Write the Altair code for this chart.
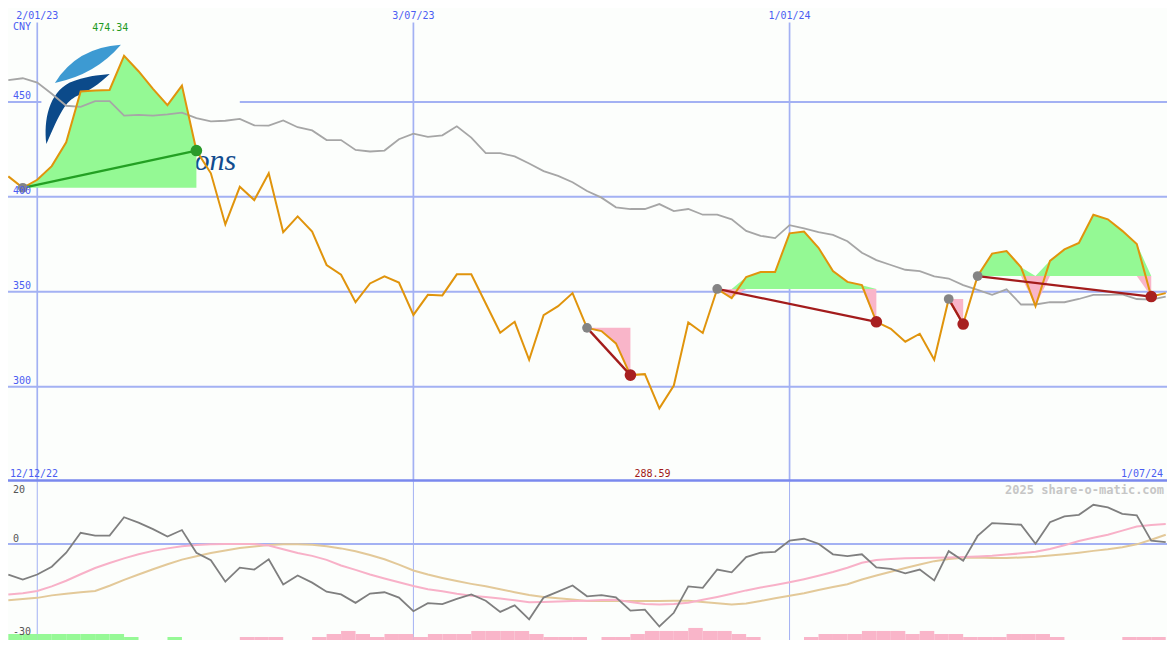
import altair as alt
import pandas as pd

# ---------------- data (weekly) ----------------
start_week = "2022-12-19"

price = [410.8, 404.8, 409.0, 416.2, 428.7, 455.5, 456.0, 456.3, 474.34, 466.2,
         456.9, 448.3, 458.6, 424.4, 412.4, 385.5, 405.3, 398.3, 412.4, 381.4,
         389.7, 381.7, 364.1, 359.0, 344.5, 354.4, 358.1, 354.9, 337.8, 348.4,
         348.1, 359.2, 359.2, 343.8, 328.4, 334.2, 314.2, 337.7, 342.4, 349.3,
         331.0, 329.3, 322.8, 306.1, 306.6, 288.59, 300.6, 333.9, 328.3, 351.5,
         346.7, 357.8, 360.4, 360.4, 380.8, 381.7, 373.2, 360.9, 355.2, 353.5,
         334.2, 330.5, 323.7, 327.9, 314.2, 346.2, 333.0, 358.3, 370.1, 371.5,
         362.9, 342.4, 366.3, 372.3, 375.7, 390.6, 388.2, 382.1, 375.2, 347.5,
         349.3]

moving_avg = [461.5, 462.5, 460.2, 454.3, 448.0, 447.4, 450.4, 450.4, 442.8, 443.2,
              442.8, 443.5, 444.4, 441.5, 439.8, 440.1, 441.1, 437.7, 437.5, 440.3,
              436.7, 435.0, 429.9, 429.9, 424.7, 423.9, 424.4, 430.4, 433.3, 431.6,
              432.4, 437.2, 431.2, 423.1, 423.1, 421.3, 417.6, 413.6, 411.1, 407.7,
              403.1, 399.6, 394.5, 393.6, 393.6, 396.2, 392.5, 393.6, 390.6, 390.6,
              388.2, 382.1, 379.5, 378.3, 385.1, 383.4, 381.4, 380.0, 376.6, 370.6,
              366.7, 364.1, 361.6, 360.9, 358.1, 357.0, 353.5, 351.0, 348.4, 351.3,
              343.3, 343.3, 344.5, 344.5, 346.2, 348.4, 348.4, 348.6, 346.2, 345.9,
              347.5]

momentum = [-9.8, -11.4, -9.8, -7.3, -2.8, 3.6, 2.7, 2.7, 8.6, 6.9,
            4.8, 2.4, 4.5, -2.8, -5.2, -12.1, -7.6, -8.2, -4.9, -13.0,
            -10.1, -12.4, -15.3, -16.2, -18.9, -15.9, -15.5, -17.2, -21.6, -19.0,
            -19.3, -17.6, -16.2, -18.2, -21.8, -19.7, -24.2, -17.2, -15.3, -13.3,
            -16.8, -16.4, -17.1, -21.4, -21.1, -26.5, -22.1, -13.6, -14.1, -8.2,
            -9.1, -4.2, -2.8, -2.5, 1.1, 1.7, 0.1, -3.3, -3.9, -3.3,
            -7.5, -8.0, -9.4, -8.2, -11.7, -2.3, -5.4, 2.6, 6.7, 6.5,
            6.2, 0.1, 7.0, 8.9, 9.4, 12.6, 11.8, 9.7, 9.2, 1.1,
            0.6]

signal_fast = [-16.2, -15.8, -15.1, -13.6, -11.8, -9.7, -7.7, -6.1, -4.6, -3.3,
               -2.2, -1.4, -0.7, -0.3, -0.1, 0.0, 0.0, 0.0, -0.5, -1.7,
               -2.9, -3.8, -5.1, -6.9, -8.3, -9.8, -11.1, -12.3, -13.5, -14.5,
               -15.2, -16.0, -16.6, -17.0, -17.5, -18.1, -18.7, -18.6, -18.5, -18.3,
               -18.2, -18.0, -17.9, -18.6, -19.3, -19.4, -19.3, -18.9, -17.9, -17.0,
               -16.0, -14.9, -14.0, -13.2, -12.3, -11.3, -10.2, -9.0, -7.6, -6.0,
               -5.1, -4.8, -4.6, -4.5, -4.4, -4.3, -4.2, -4.0, -3.8, -3.4,
               -3.0, -2.5, -1.6, -0.4, 1.0, 2.0, 3.0, 4.3, 5.6, 6.1,
               6.4]

signal_slow = [-18.1, -17.7, -17.3, -16.5, -16.0, -15.5, -15.1, -13.4, -11.5, -9.8,
               -8.1, -6.5, -5.0, -3.9, -2.9, -2.1, -1.3, -0.8, -0.3, -0.1,
               -0.1, -0.2, -0.7, -1.4, -2.3, -3.5, -4.9, -6.6, -8.5, -9.8,
               -10.9, -11.9, -12.8, -13.6, -14.5, -15.5, -16.4, -17.0, -17.4, -17.8,
               -18.3, -18.3, -18.3, -18.3, -18.3, -18.3, -18.2, -18.2, -18.6, -19.0,
               -19.4, -19.1, -18.3, -17.4, -16.6, -15.8, -14.8, -13.8, -12.9, -11.4,
               -10.1, -8.9, -7.7, -6.6, -5.5, -4.8, -4.4, -4.3, -4.5, -4.5,
               -4.3, -4.1, -3.7, -3.3, -2.8, -2.2, -1.7, -1.0, -0.1, 1.4,
               3.0]

histogram = [2, 2, 2, 2, 2, 2, 2, 2, 1, 0,
             0, 1, 0, 0, 0, 0, -1, -1, -1, 0,
             0, -1, -2, -3, -2, -1, -2, -2, -1, -2,
             -2, -2, -3, -3, -3, -3, -2, -1, -1, -1,
             0, -1, -1, -2, -3, -3, -3, -4, -3, -3,
             -2, -1, 0, 0, 0, -1, -2, -2, -2, -3,
             -3, -3, -2, -3, -2, -2, -1, -1, -1, -2,
             -2, -2, -1, 0, 0, 0, 0, -1, -1, -1,
             0]

trend_start = [1, 40, 49, 65, 67]
trend_end = [13, 43, 60, 66, 79]

grid_dates = ["2023-01-02", "2023-07-03", "2024-01-01"]
grid_labels = ["2/01/23", "3/07/23", "1/01/24"]
price_levels = [300, 350, 400, 450]
price_level_labels = ["300", "350", "400", "450"]
first_label, last_label = "12/12/22", "1/07/24"
currency = "CNY"
watermark = "2025 share-o-matic.com"

# ---------------- layout / style ----------------
W, H = 1159, 632
SX, SY = W / 1175, H / 650
SPLIT = 487 * SY


def px(v):
    return v * SX


def py(v):
    return v * SY


BG = "#fcfefc"
GRID = "#a3b1f3"
BLUE_TXT = "#4b5df2"
ORANGE = "#e0940c"
FONT = "DejaVu Sans Mono"

dates = pd.date_range(start_week, periods=len(price), freq="7D")
df = pd.DataFrame({"date": dates, "price": price, "ma": moving_avg, "mom": momentum,
                   "fast": signal_fast, "slow": signal_slow, "hist": histogram})
df["date_end"] = df["date"] + pd.Timedelta(days=7)
df["histh"] = df["hist"].abs()
df["sign"] = ["up" if v > 0 else "down" for v in histogram]
hist_df = df[df["histh"] > 0]

fill_rows, trend_rows = [], []
for r, (s, e) in enumerate(zip(trend_start, trend_end)):
    lvl = price[s]
    kind = "up" if price[e] > price[s] else "down"
    for i in range(s, e + 1):
        fill_rows.append({"rid": r, "date": dates[i], "level": lvl,
                          "upper": max(price[i], lvl), "lower": min(price[i], lvl)})
    trend_rows.append({"rid": r, "date": dates[s], "v": price[s], "kind": kind, "pt": "start"})
    trend_rows.append({"rid": r, "date": dates[e], "v": price[e], "kind": kind, "pt": "end"})
fill_df = pd.DataFrame(fill_rows)
trend_df = pd.DataFrame(trend_rows)

# the 450 grid line is interrupted behind the logo box
hgrid_df = pd.DataFrame({
    "level": price_levels[:3] + [450, 450],
    "x0": [dates[0] - pd.Timedelta(days=1)] * 4 + [pd.Timestamp("2023-04-10")],
    "x1": [dates[-1] + pd.Timedelta(days=1)] * 3 + [pd.Timestamp("2023-01-04"), dates[-1] + pd.Timedelta(days=1)],
})
vgrid_df = pd.DataFrame({"d": pd.to_datetime(grid_dates), "lab": grid_labels})
lvl_df = pd.DataFrame({"level": price_levels, "lab": price_level_labels})

imax = price.index(max(price))
imin = price.index(min(price))
ext_df = pd.DataFrame({"date": [dates[imax], dates[imin]],
                       "lab": [f"{price[imax]:.2f}", f"{price[imin]:.2f}"],
                       "kind": ["max", "min"]})

xsc = alt.Scale(domain=[alt.DateTime(year=2022, month=12, date=18, hours=20, minutes=14),
                        alt.DateTime(year=2024, month=7, date=1, hours=15)],
                range=[0, W])
ymain = alt.Scale(domain=[250.05, 499.5], range=[SPLIT, 0], nice=False, zero=False)
ylow = alt.Scale(domain=[-30.84, 20.09], range=[H, SPLIT], nice=False, zero=False)
ybar = alt.Scale(domain=[0, 163 / 3.1], range=[H, SPLIT], nice=False, zero=False)


def X(f):
    return alt.X(f, type="temporal", scale=xsc, axis=None)


one = pd.DataFrame({"k": [0]})

# ---------------- main panel ----------------
hgrid = alt.Chart(hgrid_df).mark_rule(color=GRID, strokeWidth=2).encode(
    x=X("x0"), x2="x1:T", y=alt.Y("level:Q", scale=ymain, axis=None))
vgrid_main = alt.Chart(vgrid_df).mark_rule(color=GRID, strokeWidth=1.7).encode(
    x=X("d"), y=alt.value(py(15)), y2=alt.value(SPLIT))
vgrid_low = alt.Chart(vgrid_df).mark_rule(color=GRID, strokeWidth=1).encode(
    x=X("d"), y=alt.value(SPLIT), y2=alt.value(H))

leaf_light = "M -0.97 0.56 Q -0.32 -0.48 0.97 -0.56 Q 0.22 0.32 -0.97 0.56 Z"
leaf_dark = ("M -0.89 1 C -0.97 0.3 -0.82 -0.45 -0.22 -0.76 C 0.2 -0.93 0.6 -0.97 0.92 -1 "
             "C 0.6 -0.7 0.3 -0.5 0.0 -0.38 C -0.35 -0.22 -0.5 0.1 -0.89 1 Z")
logo1 = alt.Chart(one).mark_point(shape=leaf_light, filled=True, opacity=1, size=(70 * SY) ** 2,
                                  color="#3d9ad2", strokeWidth=0).encode(
    x=alt.value(px(81)), y=alt.value(py(57.5)))
logo2 = alt.Chart(one).mark_point(shape=leaf_dark, filled=True, opacity=1, size=(72 * SY) ** 2,
                                  color="#0b4a8a", strokeWidth=0).encode(
    x=alt.value(px(70.5)), y=alt.value(py(104)))
logo3 = alt.Chart(one).mark_text(text="ons", font="Liberation Serif", fontStyle="italic",
                                 fontSize=31 * SY, color="#124c8e", align="left",
                                 baseline="alphabetic").encode(
    x=alt.value(px(189)), y=alt.value(py(167)))

fill_up = alt.Chart(fill_df).mark_area(color="#94f994", opacity=1).encode(
    x=X("date"), y=alt.Y("upper:Q", scale=ymain, axis=None), y2="level:Q", detail="rid:N")
fill_dn = alt.Chart(fill_df).mark_area(color="#f9b5c9", opacity=1).encode(
    x=X("date"), y=alt.Y("lower:Q", scale=ymain, axis=None), y2="level:Q", detail="rid:N")

ma_line = alt.Chart(df).mark_line(color="#a6a6a6", strokeWidth=1.8).encode(
    x=X("date"), y=alt.Y("ma:Q", scale=ymain, axis=None))
price_line = alt.Chart(df).mark_line(color=ORANGE, strokeWidth=2).encode(
    x=X("date"), y=alt.Y("price:Q", scale=ymain, axis=None))

trend_col = alt.Color("kind:N", scale=alt.Scale(domain=["up", "down"], range=["#23a023", "#a31c1c"]),
                      legend=None)
trend_lines = alt.Chart(trend_df).mark_line(strokeWidth=2.3).encode(
    x=X("date"), y=alt.Y("v:Q", scale=ymain, axis=None), detail="rid:N", color=trend_col)
start_dots = alt.Chart(trend_df[trend_df["pt"] == "start"]).mark_circle(
    color="#848484", opacity=1, size=95).encode(
    x=X("date"), y=alt.Y("v:Q", scale=ymain, axis=None))
end_dots = alt.Chart(trend_df[trend_df["pt"] == "end"]).mark_circle(opacity=1, size=135).encode(
    x=X("date"), y=alt.Y("v:Q", scale=ymain, axis=None),
    color=alt.Color("kind:N", scale=alt.Scale(domain=["up", "down"], range=["#2a9a2a", "#a82020"]),
                    legend=None))

date_txt = alt.Chart(vgrid_df).mark_text(font=FONT, fontSize=10, color=BLUE_TXT,
                                         align="center", baseline="middle").encode(
    x=X("d"), y=alt.value(py(8)), text="lab:N")
lvl_txt = alt.Chart(lvl_df).mark_text(font=FONT, fontSize=10, color=BLUE_TXT, align="left",
                                      baseline="middle", dy=-6 * SY).encode(
    x=alt.value(px(5)), y=alt.Y("level:Q", scale=ymain, axis=None), text="lab:N")
cny_txt = alt.Chart(one).mark_text(text=currency, font=FONT, fontSize=10, color=BLUE_TXT,
                                   align="left", baseline="middle").encode(
    x=alt.value(px(5)), y=alt.value(py(20)))
max_txt = alt.Chart(ext_df[ext_df["kind"] == "max"]).mark_text(
    font=FONT, fontSize=10, color="#1f9a1f", align="center", baseline="middle", dx=-14 * SX).encode(
    x=X("date"), y=alt.value(py(21)), text="lab:N")
min_txt = alt.Chart(ext_df[ext_df["kind"] == "min"]).mark_text(
    font=FONT, fontSize=10, color="#a01818", align="center", baseline="middle", dx=-7 * SX).encode(
    x=X("date"), y=alt.value(py(479)), text="lab:N")
first_txt = alt.Chart(one).mark_text(text=first_label, font=FONT, fontSize=10, color=BLUE_TXT,
                                     align="left", baseline="middle").encode(
    x=alt.value(px(2)), y=alt.value(py(479)))
last_txt = alt.Chart(one).mark_text(text=last_label, font=FONT, fontSize=10, color=BLUE_TXT,
                                    align="right", baseline="middle").encode(
    x=alt.value(px(1171)), y=alt.value(py(479)))

# ---------------- lower panel ----------------
zero_line = alt.Chart(one).mark_rule(color=GRID, strokeWidth=2).encode(
    y=alt.Y("z:Q", scale=ylow, axis=None), x=alt.value(0), x2=alt.value(W)).transform_calculate(z="0")
sep_line = alt.Chart(one).mark_rule(color="#7a89ee", strokeWidth=2.5).encode(
    x=alt.value(0), x2=alt.value(W), y=alt.value(py(486)))
hist_bars = alt.Chart(hist_df).mark_rect(opacity=1).encode(
    x=X("date"), x2="date_end:T",
    y=alt.Y("histh:Q", scale=ybar, axis=None), y2=alt.datum(0),
    color=alt.Color("sign:N", scale=alt.Scale(domain=["up", "down"], range=["#96f996", "#f9b5c9"]),
                    legend=None))
slow_line = alt.Chart(df).mark_line(color="#e3c999", strokeWidth=2).encode(
    x=X("date"), y=alt.Y("slow:Q", scale=ylow, axis=None))
fast_line = alt.Chart(df).mark_line(color="#f8b1c8", strokeWidth=2).encode(
    x=X("date"), y=alt.Y("fast:Q", scale=ylow, axis=None))
mom_line = alt.Chart(df).mark_line(color="#7f7f7f", strokeWidth=1.8).encode(
    x=X("date"), y=alt.Y("mom:Q", scale=ylow, axis=None))

low_lab_df = pd.DataFrame({"lab": ["20", "0", "-30"], "yy": [py(496), py(546), py(642)]})
low_txt = alt.Chart(low_lab_df).mark_text(font=FONT, fontSize=10, color="#555555", align="left",
                                          baseline="middle").encode(
    x=alt.value(px(5)), y=alt.Y("yy:Q", scale=None), text="lab:N")
wm_txt = alt.Chart(one).mark_text(text=watermark, font=FONT, fontSize=12, fontWeight="bold",
                                  color="#c6c6c6", align="right", baseline="middle").encode(
    x=alt.value(px(1172)), y=alt.value(py(496)))

chart = alt.layer(
    hgrid, vgrid_main, vgrid_low, logo1, logo2, logo3,
    fill_up, fill_dn, ma_line, price_line, trend_lines, start_dots, end_dots,
    date_txt, lvl_txt, cny_txt, max_txt, min_txt, first_txt, last_txt,
    zero_line, hist_bars, slow_line, fast_line, mom_line, sep_line, low_txt, wm_txt,
).resolve_scale(y="independent", color="independent").properties(
    width=W, height=H, padding=0, autosize="none", background=BG
).configure_view(stroke=None)

chart.save("out.html", embed_options={"renderer": "svg", "actions": False})
